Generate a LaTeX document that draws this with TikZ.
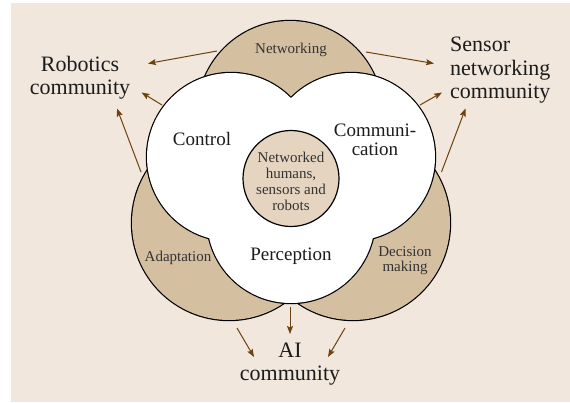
\documentclass[tikz,border=0pt]{standalone}
\usepackage{fontspec}
\setmainfont{Liberation Serif}
\usetikzlibrary{arrows.meta}
\definecolor{bg}{HTML}{F1E7DD}
\definecolor{lobe}{HTML}{D5BFA1}
\definecolor{core}{HTML}{E5D5C0}
\definecolor{arr}{HTML}{6E4210}
\definecolor{txt}{HTML}{1C1C1C}
\begin{document}
\begin{tikzpicture}[x=1pt,y=-1pt,
  rim/.style={line width=2.4pt, draw=black},
  big/.style={font=\fontsize{22}{23.5}\selectfont, text=txt, inner sep=0pt, align=center},
  mid/.style={font=\fontsize{19}{19}\selectfont, text=txt, inner sep=0pt, align=center},
  small/.style={font=\fontsize{15}{16.2}\selectfont, text=txt!90, inner sep=0pt, align=center},
  flow/.style={draw=arr, line width=1pt, -{Stealth[length=8pt,width=6pt,inset=1.5pt]}}
]
\useasboundingbox (0,0) rectangle (570,402);
\fill[bg] (11,3) rectangle (570,402);
% tan lobes
\draw[rim] (290,113.5) circle[radius=92.5] (229,223) circle[radius=97] (353,223) circle[radius=97];
\fill[lobe] (290,113.5) circle[radius=92.5] (229,223) circle[radius=97] (353,223) circle[radius=97];
% white flower
\draw[rim] (231,157) circle[radius=84] (351,157) circle[radius=84] (291,219) circle[radius=84];
\fill[white] (231,157) circle[radius=84] (351,157) circle[radius=84] (291,219) circle[radius=84];
% core
\draw[line width=1.2pt, fill=core] (291,178.5) circle[radius=48];

% labels (base anchor = baseline of the last line)
\node[big, anchor=base] (robotics) at (80,94.5) {Robotics\\community};
\node[big, anchor=base west, align=left] (sensor) at (450,98.5) {Sensor\\networking\\community};
\node[big, anchor=base] (ai) at (290,380.5) {AI\\community};
\node[mid, anchor=base] (control) at (202,145) {Control};
\node[mid, anchor=base] (comm) at (375,155) {Communi-\\cation};
\node[mid, anchor=base] (perc) at (291,260) {Perception};
\node[small, anchor=base] (netw) at (291,53) {Networking};
\node[small, anchor=base] (adapt) at (178,261) {Adaptation};
\node[small, anchor=base, font=\fontsize{15}{15}\selectfont] (dec) at (405,271.7) {Decision\\making};
\node[small, anchor=base] (corelbl) at (291,210.7) {Networked\\humans,\\sensors and\\robots};

% arrow end points
\coordinate (r1s) at (217,51);  \coordinate (r1e) at (148,63.5);
\coordinate (r2s) at (162,105); \coordinate (r2e) at (141.5,92.5);
\coordinate (r3s) at (141,172); \coordinate (r3e) at (117,108.5);
\coordinate (s1s) at (366,52);  \coordinate (s1e) at (434,63.5);
\coordinate (s2s) at (420,105); \coordinate (s2e) at (442,92.5);
\coordinate (s3s) at (441.5,172); \coordinate (s3e) at (465.5,108.5);
\coordinate (a1s) at (290,307); \coordinate (a1e) at (290,334);
\coordinate (a2s) at (237,328); \coordinate (a2e) at (254,357);
\coordinate (a3s) at (345,328); \coordinate (a3e) at (328,357);

\draw[flow] (r1s) -- (r1e);
\draw[flow] (r2s) -- (r2e);
\draw[flow] (r3s) -- (r3e);
\draw[flow] (s1s) -- (s1e);
\draw[flow] (s2s) -- (s2e);
\draw[flow] (s3s) -- (s3e);
\draw[flow] (a1s) -- (a1e);
\draw[flow] (a2s) -- (a2e);
\draw[flow] (a3s) -- (a3e);
\end{tikzpicture}
\end{document}
